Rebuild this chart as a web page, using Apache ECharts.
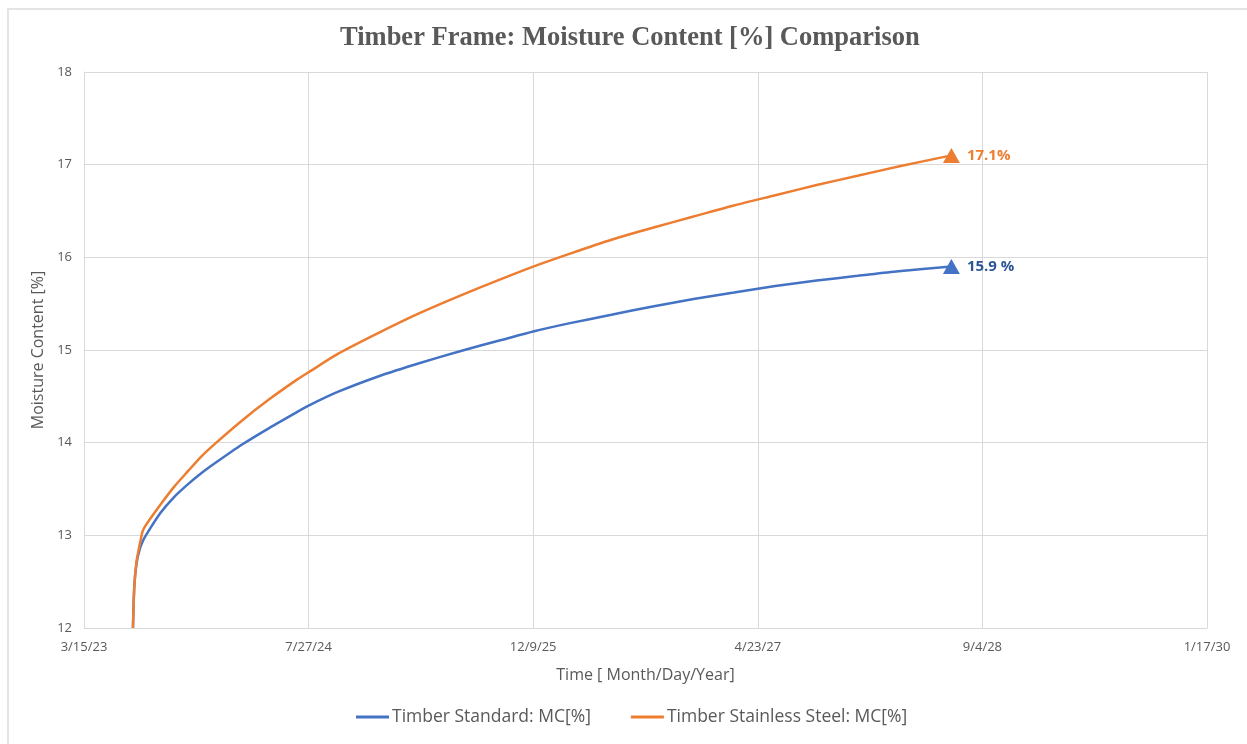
<!DOCTYPE html>
<html>
<head>
<meta charset="utf-8">
<title>Timber Frame: Moisture Content [%] Comparison</title>
<script src="https://cdn.jsdelivr.net/npm/echarts@6/dist/echarts.min.js"></script>
<style>
  html, body { margin: 0; padding: 0; background: #ffffff; }
  #chart { width: 1247px; height: 744px; }
</style>
</head>
<body>
<div id="chart"></div>
<script>
// Sample dates (ISO) shared by both series
var dates = [
  '2023-07-02', '2023-07-05', '2023-07-10', '2023-07-17', '2023-07-24',
  '2023-08-01', '2023-09-01', '2023-10-01', '2023-11-01', '2023-12-01',
  '2024-01-01', '2024-03-01', '2024-05-01', '2024-07-01', '2024-07-27',
  '2024-10-01', '2025-01-01', '2025-04-01', '2025-07-01', '2025-10-01',
  '2025-12-09', '2026-03-01', '2026-06-01', '2026-09-01', '2026-12-01',
  '2027-03-01', '2027-06-01', '2027-09-01', '2027-12-01', '2028-03-01',
  '2028-06-27'
];

// Moisture content [%] – standard timber frame
var mcStandard = [
  12.00, 12.45, 12.70, 12.85, 12.94,
  13.01, 13.24, 13.41, 13.55, 13.67,
  13.78, 13.98, 14.16, 14.33, 14.40,
  14.55, 14.72, 14.86, 14.99, 15.11,
  15.20, 15.29, 15.38, 15.47, 15.55,
  15.62, 15.69, 15.75, 15.80, 15.85,
  15.90
];

// Moisture content [%] – timber frame with stainless steel
var mcStainless = [
  12.00, 12.45, 12.72, 12.90, 13.05,
  13.12, 13.33, 13.52, 13.69, 13.85,
  13.99, 14.24, 14.47, 14.68, 14.76,
  14.96, 15.19, 15.40, 15.59, 15.77,
  15.90, 16.04, 16.19, 16.32, 16.44,
  16.56, 16.67, 16.78, 16.88, 16.98,
  17.10
];

var seriesNames = ['Timber Standard: MC[%]', 'Timber Stainless Steel: MC[%]'];
var endLabels = ['15.9 %', '17.1%'];

// Spreadsheet-style day serials (day 0 = 1899-12-30)
var DAY_MS = 86400000;
var EPOCH = Date.UTC(1899, 11, 30);
function toSerial(iso) {
  var p = iso.split('-');
  return Math.round((Date.UTC(+p[0], +p[1] - 1, +p[2]) - EPOCH) / DAY_MS);
}
function serialLabel(v) {
  var d = new Date(EPOCH + v * DAY_MS);
  return (d.getUTCMonth() + 1) + '/' + d.getUTCDate() + '/' + String(d.getUTCFullYear()).slice(2);
}

var BLUE = '#4472C4', ORANGE = '#ED7D31';

// Only the final reading carries a triangle marker and its value label
function buildData(values, labelText, labelColor) {
  return values.map(function (v, i) {
    var pt = [toSerial(dates[i]), v];
    if (i === values.length - 1) {
      return {
        value: pt,
        symbol: 'triangle',
        symbolSize: [17, 15],
        label: {
          show: true,
          position: 'right',
          distance: 7,
          formatter: labelText,
          color: labelColor,
          fontWeight: 'bold',
          fontSize: 15,
          fontFamily: 'Open Sans'
        }
      };
    }
    return { value: pt };
  });
}

var axisFont = 'Open Sans';
var textGrey = '#595959';
var gridGrey = '#d9d9d9';

var chart = echarts.init(document.getElementById('chart'));
chart.setOption({
  backgroundColor: '#ffffff',
  animation: false,
  title: {
    text: 'Timber Frame: Moisture Content [%] Comparison',
    left: 335,
    top: 20,
    textStyle: {
      fontFamily: 'Liberation Serif',
      fontWeight: 'bold',
      fontSize: 26.5,
      color: textGrey
    }
  },
  graphic: [{
    type: 'rect',
    shape: { x: 8, y: 9, width: 1300, height: 800 },
    style: { fill: 'none', stroke: '#e4e4e4', lineWidth: 2 },
    silent: true
  }],
  legend: {
    bottom: 13,
    left: 351,
    icon: 'rect',
    itemWidth: 33,
    itemHeight: 3,
    itemGap: 40,
    textStyle: { fontFamily: axisFont, fontSize: 17.5, color: textGrey, padding: [0, 0, 0, -2] },
    data: seriesNames
  },
  grid: { left: 84, right: 40, top: 72, bottom: 116 },
  xAxis: {
    type: 'value',
    min: 45000,
    max: 47500,
    interval: 500,
    name: 'Time [ Month/Day/Year]',
    nameLocation: 'middle',
    nameGap: 39,
    nameTextStyle: { fontFamily: axisFont, fontSize: 16, color: textGrey },
    axisLine: { show: true, lineStyle: { color: gridGrey, width: 1 } },
    axisTick: { show: false },
    axisLabel: {
      formatter: serialLabel,
      fontFamily: axisFont,
      fontSize: 13,
      color: textGrey,
      margin: 13
    },
    splitLine: { show: true, lineStyle: { color: gridGrey, width: 1 } }
  },
  yAxis: {
    type: 'value',
    min: 12,
    max: 18,
    interval: 1,
    name: 'Moisture Content [%]',
    nameLocation: 'middle',
    nameGap: 33,
    nameTextStyle: { fontFamily: axisFont, fontSize: 16, color: textGrey },
    axisLine: { show: true, lineStyle: { color: gridGrey, width: 1 } },
    axisTick: { show: false },
    axisLabel: { fontFamily: axisFont, fontSize: 13, color: textGrey, margin: 12 },
    splitLine: { show: true, lineStyle: { color: gridGrey, width: 1 } }
  },
  series: [
    {
      name: seriesNames[0],
      type: 'line',
      symbol: 'none',
      showSymbol: true,
      showAllSymbol: true,
      smooth: 0.25,
      color: BLUE,
      lineStyle: { color: BLUE, width: 2.5 },
      itemStyle: { color: BLUE },
      data: buildData(mcStandard, endLabels[0], '#2F5597'),
      z: 3
    },
    {
      name: seriesNames[1],
      type: 'line',
      symbol: 'none',
      showSymbol: true,
      showAllSymbol: true,
      smooth: 0.25,
      color: ORANGE,
      lineStyle: { color: ORANGE, width: 2.5 },
      itemStyle: { color: ORANGE },
      data: buildData(mcStainless, endLabels[1], ORANGE),
      z: 4
    }
  ]
});
</script>
</body>
</html>
